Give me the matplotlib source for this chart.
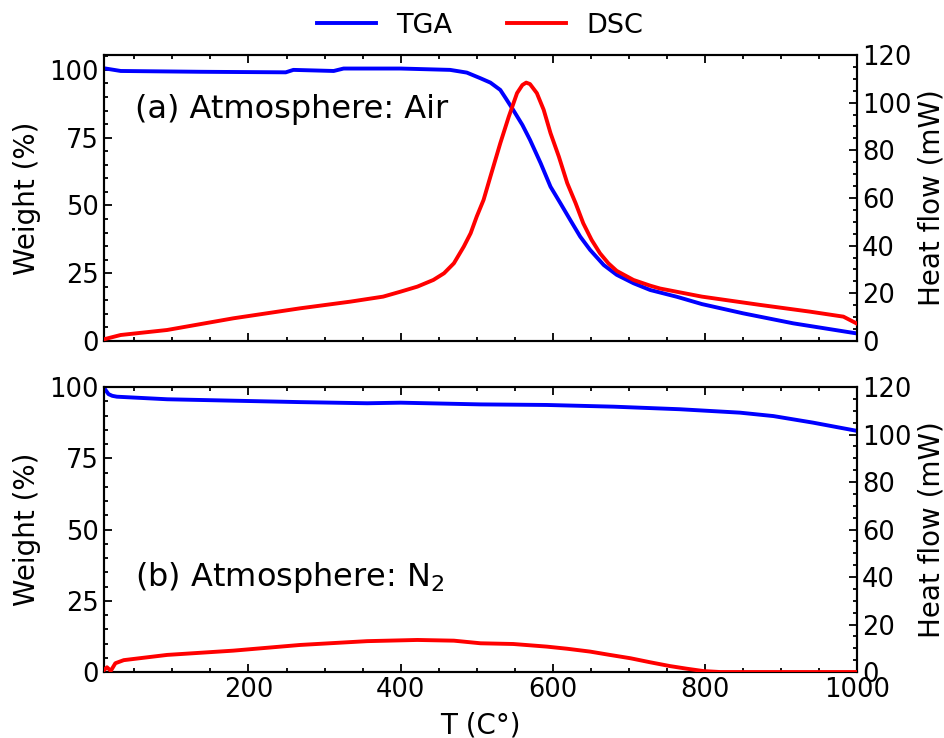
import numpy as np
import matplotlib
matplotlib.use("Agg")
import matplotlib.pyplot as plt
from matplotlib.ticker import MultipleLocator
from matplotlib.lines import Line2D

# ---- Air atmosphere ----
air_tga_T = [10, 32, 137, 249, 259, 312, 325, 400, 465, 487, 505, 518, 531, 538, 548,
             560, 570, 584, 597, 610, 623, 636, 649, 667, 684, 706, 728, 763, 796,
             850, 916, 999]
air_tga_W = [100.6, 99.6, 99.3, 99.1, 100.0, 99.6, 100.5, 100.5, 100.0, 99.0, 96.9,
             95.3, 92.6, 89.6, 85.2, 79.7, 74.2, 65.6, 56.9, 50.8, 44.6, 38.5, 33.6,
             28.0, 24.4, 21.3, 18.8, 16.3, 13.6, 10.2, 6.5, 2.8]

air_dsc_T = [10, 32, 93, 180, 268, 334, 377, 400, 422, 443, 457, 470, 483, 492, 500,
             509, 518, 531, 542, 553, 560, 565, 570, 579, 588, 597, 608, 619, 630,
             640, 651, 662, 673, 684, 706, 728, 741, 796, 873, 938, 982, 999]
air_dsc_H = [0.7, 2.5, 4.6, 9.5, 13.7, 16.5, 18.6, 20.7, 22.8, 25.6, 28.4, 32.6, 39.6,
             45.2, 52.2, 59.2, 69.0, 83.0, 94.0, 104.0, 107.4, 108.4, 107.8, 104.0,
             97.0, 87.2, 77.3, 66.2, 57.8, 49.4, 42.4, 36.8, 32.6, 29.4, 25.6, 23.2,
             22.0, 18.6, 15.1, 12.3, 10.2, 7.4]

# ---- N2 atmosphere ----
n2_tga_T = [10, 13, 16, 21, 27, 93, 180, 268, 356, 400, 505, 592, 680, 767, 846,
            890, 942, 1000]
n2_tga_W = [99.8, 98.6, 97.5, 96.9, 96.6, 95.7, 95.2, 94.7, 94.3, 94.5, 93.9, 93.7,
            93.1, 92.2, 91.0, 89.8, 87.5, 84.6]

n2_dsc_T = [10, 14, 19, 25, 36, 93, 180, 268, 356, 422, 470, 505, 548, 592, 619,
            649, 675, 702, 728, 754, 776, 798, 820, 1000]
n2_dsc_H = [0.8, 2.0, 0.5, 3.7, 5.0, 7.2, 9.0, 11.4, 13.0, 13.5, 13.2, 12.1, 11.8,
            10.7, 9.8, 8.6, 7.2, 5.8, 4.1, 2.5, 1.4, 0.4, 0.0, 0.0]

xticks = [200, 400, 600, 800, 1000]

TGA_COLOR = "#0000ff"
DSC_COLOR = "#ff0000"
LW = 2.8
TICK_FS = 18.5
LABEL_FS = 20

plt.rcParams["font.family"] = "DejaVu Sans"

fig = plt.figure(figsize=(9.45, 7.38), dpi=100)
ax1 = fig.add_axes([0.110, 0.538, 0.797, 0.3875])
ax2 = fig.add_axes([0.110, 0.0894, 0.797, 0.3862], sharex=ax1)


def style(ax, right):
    for sp in ax.spines.values():
        sp.set_linewidth(1.5)
    ax.tick_params(which="both", direction="in", labelsize=TICK_FS, width=1.3)
    ax.tick_params(which="major", length=6)
    ax.tick_params(which="minor", length=3)
    if right:
        ax.tick_params(which="both", left=False, right=True)
    else:
        ax.tick_params(which="both", top=True, right=False)


panels = [
    (ax1, air_tga_T, air_tga_W, air_dsc_T, air_dsc_H, 105.5, "(a) Atmosphere: Air", 0.808),
    (ax2, n2_tga_T, n2_tga_W, n2_dsc_T, n2_dsc_H, 100, r"(b) Atmosphere: N$_2$", 0.333),
]

for ax, tT, tW, dT, dH, ytop, label, ly in panels:
    axr = ax.twinx()
    ax.plot(tT, tW, color=TGA_COLOR, lw=LW, zorder=3)
    axr.plot(dT, dH, color=DSC_COLOR, lw=LW, zorder=3)
    ax.set_xlim(10, 1000)
    ax.set_ylim(0, ytop)
    axr.set_ylim(0, 120)
    ax.set_xticks(xticks)
    ax.xaxis.set_minor_locator(MultipleLocator(50))
    ax.set_yticks([0, 25, 50, 75, 100])
    ax.yaxis.set_minor_locator(MultipleLocator(5))
    axr.set_yticks([0, 20, 40, 60, 80, 100, 120])
    axr.yaxis.set_minor_locator(MultipleLocator(5))
    style(ax, False)
    style(axr, True)
    ax.set_ylabel("Weight (%)", fontsize=LABEL_FS, labelpad=6)
    axr.set_ylabel("Heat flow (mW)", fontsize=LABEL_FS, labelpad=4)
    ax.text(0.041, ly, label, transform=ax.transAxes, fontsize=23,
            ha="left", va="center")

plt.setp(ax1.get_xticklabels(), visible=False)
ax2.set_xlabel("T (C°)", fontsize=LABEL_FS, labelpad=6)

handles = [Line2D([], [], color=TGA_COLOR, lw=LW), Line2D([], [], color=DSC_COLOR, lw=LW)]
fig.legend(handles, ["TGA", "DSC"], loc="center", bbox_to_anchor=(0.508, 0.965),
           ncol=2, frameon=False, fontsize=19.5, handlelength=2.2,
           handletextpad=0.75, columnspacing=2.0)

fig.savefig("out.png", dpi=100)
